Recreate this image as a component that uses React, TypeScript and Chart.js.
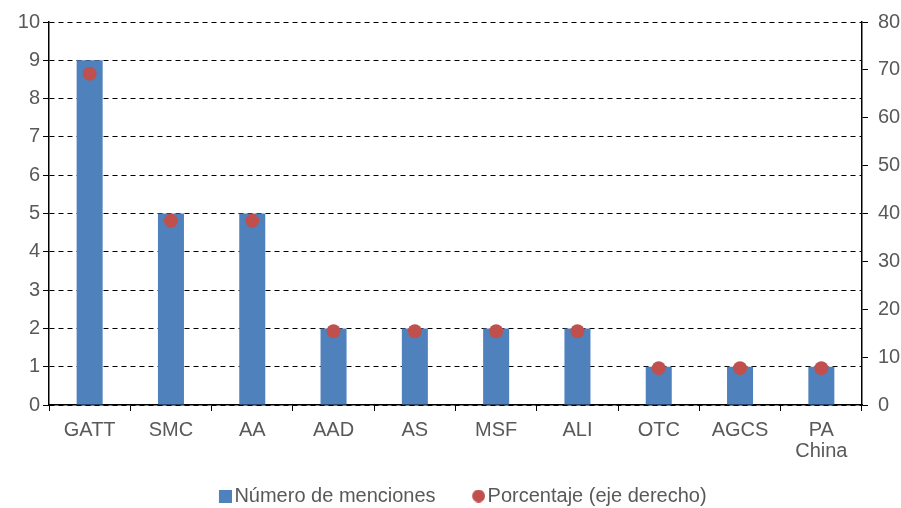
import React, { useEffect, useRef } from "react";
import { Chart, registerables } from "chart.js";

Chart.register(...registerables);

const categories: (string | string[])[] = ["GATT", "SMC", "AA", "AAD", "AS", "MSF", "ALI", "OTC", "AGCS", ["PA", "China"]];
const menciones = [9, 5, 5, 2, 2, 2, 2, 1, 1, 1];
const porcentaje = [69.2, 38.5, 38.5, 15.4, 15.4, 15.4, 15.4, 7.7, 7.7, 7.7];

const FONT = "'Liberation Sans', Arial, sans-serif";
const TXT = "#595959";
const BLUE = "#4F81BD";
const RED = "#C0504D";

function legendIcon(kind: "rect" | "circle", color: string): HTMLCanvasElement {
  const c = document.createElement("canvas");
  c.width = 45;
  c.height = 13;
  const g = c.getContext("2d")!;
  g.fillStyle = color;
  if (kind === "rect") {
    g.fillRect(32, 0, 13, 13);
  } else {
    g.beginPath();
    g.arc(38.5, 6.5, 6.5, 0, Math.PI * 2);
    g.fill();
  }
  return c;
}

export default function App() {
  const ref = useRef<HTMLCanvasElement>(null);
  useEffect(() => {
    document.body.style.margin = "0";
    const icons = [legendIcon("rect", BLUE), legendIcon("circle", RED)];
    const ctx = ref.current!;
    const chart = new Chart(ctx, {
      type: "bar",
      data: {
        labels: categories,
        datasets: [
          {
            type: "bar",
            label: "Número de menciones",
            data: menciones,
            backgroundColor: BLUE,
            borderWidth: 0,
            barPercentage: 0.32,
            categoryPercentage: 1,
            yAxisID: "y",
            order: 2,
          },
          {
            type: "line",
            label: "Porcentaje (eje derecho)",
            data: porcentaje,
            showLine: false,
            backgroundColor: RED,
            borderColor: RED,
            pointRadius: 7,
            pointBorderWidth: 0,
            pointStyle: "circle",
            yAxisID: "y1",
            order: 1,
          },
        ],
      },
      options: {
        animation: false,
        responsive: false,
        layout: { padding: { left: 0, right: 0, top: 12, bottom: -8 } },
        plugins: {
          tooltip: { enabled: false },
          legend: {
            position: "bottom",
            labels: {
              usePointStyle: true,
              pointStyleWidth: 30,
              boxHeight: 13,
              padding: 12,
              color: TXT,
              font: { family: FONT, size: 20 },
              sort: (a: any, b: any) => a.datasetIndex - b.datasetIndex,
              generateLabels: (ch: any) => {
                const items = Chart.defaults.plugins.legend.labels.generateLabels(ch);
                items.forEach((it: any) => {
                  it.pointStyle = icons[it.datasetIndex];
                  it.fontColor = TXT;
                });
                return items;
              },
            } as any,
          },
        },
        scales: {
          x: {
            offset: true,
            grid: {
              offset: true,
              drawOnChartArea: false,
              drawTicks: true,
              tickLength: 6,
              color: "#000",
            },
            border: { display: true, color: "#000", width: 1.5 },
            ticks: {
              color: TXT,
              font: { family: FONT, size: 20, lineHeight: 1.05 },
              maxRotation: 0,
              autoSkip: false,
              padding: 9,
            },
            afterFit: (s: any) => {
              s.height = 69;
            },
          },
          y: {
            position: "left",
            min: 0,
            max: 10,
            ticks: { stepSize: 1, color: TXT, font: { family: FONT, size: 20 }, padding: 3 },
            grid: { color: "#000", tickLength: 6, lineWidth: 1 },
            border: { display: true, color: "#000", width: 1.5, dash: [5, 4] } as any,
            afterFit: (s: any) => {
              s.width = 49;
            },
          },
          y1: {
            position: "right",
            min: 0,
            max: 80,
            ticks: { stepSize: 10, color: TXT, font: { family: FONT, size: 20 }, padding: 10 },
            grid: { drawOnChartArea: false, color: "#000", tickLength: 6 },
            border: { display: true, color: "#000", width: 1.5 },
            afterFit: (s: any) => {
              s.width = 39;
            },
          },
        },
      },
    });
    return () => chart.destroy();
  }, []);
  return (
    <div style={{ width: 901, height: 508 }}>
      <canvas ref={ref} width={901} height={508} />
    </div>
  );
}
